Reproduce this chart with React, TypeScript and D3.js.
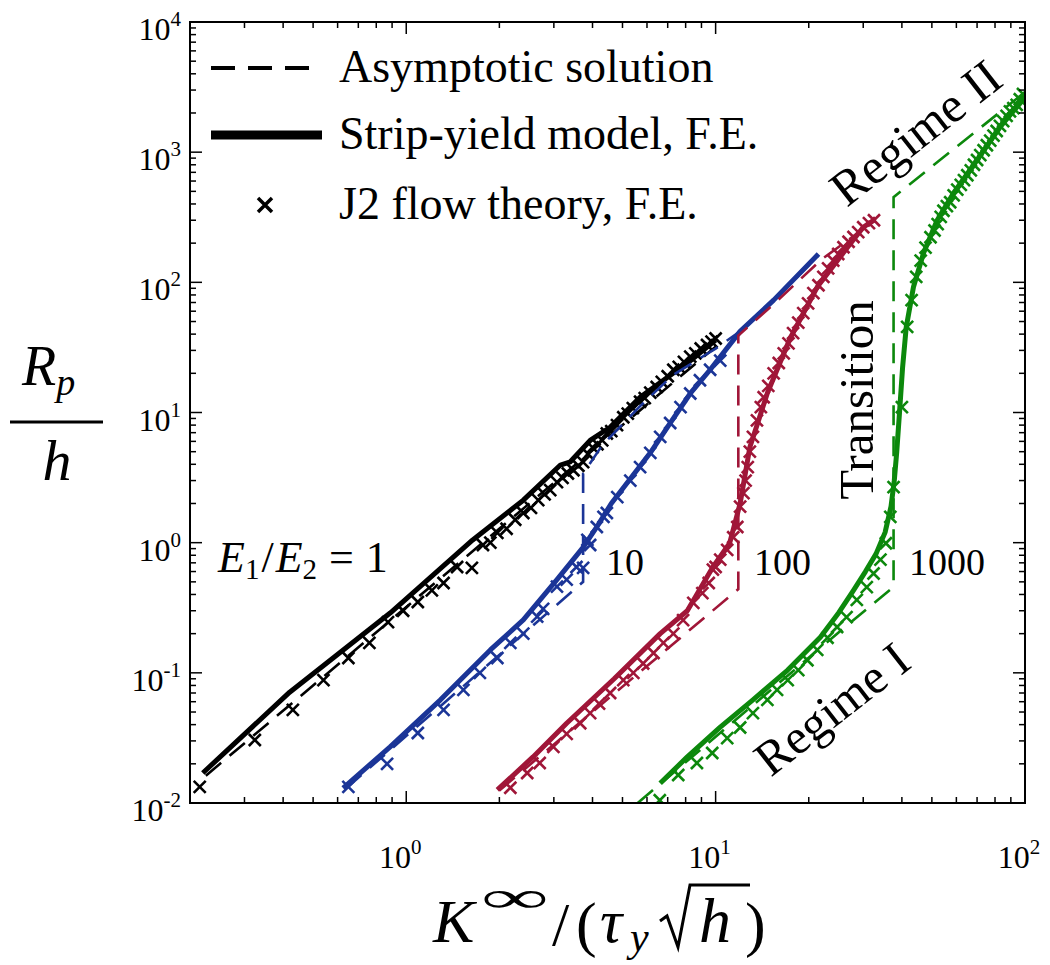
import React, { useEffect, useRef } from 'react';
import * as d3 from 'd3';

// E1/E2 = 1
const blackSolid = [[0.22, 0.017], [0.42, 0.071], [0.887, 0.288], [1.64, 1.05], [2.39, 2.12], [3.15, 3.95], [3.39, 4.18], [3.93, 6.1], [4.56, 7.7], [5.7, 13.1], [8.28, 25], [10, 36]];
const blackDashed = [[0.225, 0.0162], [10, 32]];
const blackMarks = [[0.215, 0.0133], [0.324, 0.0305], [0.43, 0.052], [0.54, 0.088], [0.65, 0.13], [0.76, 0.17], [0.873, 0.245], [0.977, 0.3], [1.09, 0.35], [1.21, 0.43], [1.32, 0.49], [1.46, 0.65], [1.63, 0.64], [1.77, 0.96], [1.87, 1.0], [1.97, 1.19], [2.11, 1.28], [2.25, 1.5], [2.39, 1.69], [2.53, 1.85], [2.67, 2.12], [2.8, 2.35], [2.92, 2.53], [3.07, 2.92], [3.2, 3.15], [3.33, 3.4], [3.47, 3.6], [3.6, 3.9], [3.73, 4.16], [3.87, 4.8], [4.0, 5.4], [4.15, 5.7], [4.3, 6.1], [4.45, 6.9], [4.6, 7.2], [4.8, 8.0], [5.03, 9.2], [5.2, 9.8], [5.4, 10.8], [5.7, 12.1], [5.9, 12.9], [6.15, 14.2], [6.45, 15.7], [6.7, 17.2], [7.0, 19.0], [7.3, 21.3], [7.6, 22.4], [7.9, 24.5], [8.28, 26.9], [8.6, 28.5], [8.95, 31], [9.38, 33], [9.7, 35], [10.0, 37]];

// E1/E2 = 10
const blueSolid = [[0.625, 0.013], [0.887, 0.027], [1.29, 0.062], [1.87, 0.15], [2.39, 0.255], [3.07, 0.52], [3.73, 0.92], [4.13, 1.32], [4.6, 2.0], [5.3, 3.1], [6.15, 4.9], [7.13, 8.3], [8.28, 14], [9.6, 21.3], [12, 42], [15.4, 73], [21.5, 165]];
const blueDashed = [[0.64, 0.013], [3.73, 0.5], [3.73, 3.4], [4.3, 5.6], [5.7, 11.2], [7.3, 19.5], [10, 31], [12, 42], [15.4, 73], [21.5, 160]];
const blueMarks = [[0.65, 0.0133], [0.867, 0.02], [1.09, 0.0345], [1.32, 0.052], [1.53, 0.074], [1.73, 0.1], [1.97, 0.13], [2.17, 0.17], [2.39, 0.2], [2.65, 0.27], [2.77, 0.31], [3.07, 0.46], [3.3, 0.52], [3.55, 0.65], [3.73, 0.64], [3.85, 1.05], [3.93, 0.96], [4.13, 1.32], [4.34, 1.58], [4.45, 1.69], [4.81, 2.24], [5.3, 3.0], [5.7, 3.8], [6.15, 4.9], [6.62, 6.5], [7.13, 8.3], [7.7, 11], [8.28, 14], [8.9, 17.7], [9.6, 21.3], [10.35, 25]];

// E1/E2 = 100
const redSolid = [[1.97, 0.0126], [2.57, 0.0226], [3.3, 0.041], [4.7, 0.09], [6.62, 0.2], [8.1, 0.3], [9.8, 0.65], [11.1, 0.99], [12.0, 2.0], [12.9, 5.4], [14.7, 14.1], [17.4, 37], [21.3, 92], [26.7, 186], [30, 265], [32.8, 305]];
const redDashed = [[2.0, 0.0125], [11.84, 0.44], [11.84, 39], [15.4, 68], [22, 150], [32.5, 295]];
const redMarks = [[2.17, 0.0131], [2.46, 0.017], [2.7, 0.0203], [2.99, 0.027], [3.3, 0.034], [3.65, 0.041], [3.93, 0.049], [4.2, 0.058], [4.56, 0.07], [5.03, 0.088], [5.42, 0.1], [5.83, 0.118], [6.3, 0.142], [6.78, 0.17], [7.3, 0.2], [7.85, 0.254], [8.47, 0.345], [9.06, 0.41], [9.5, 0.49], [9.8, 0.62], [10, 0.65], [10.35, 0.74], [10.9, 0.88], [11.4, 1.1], [11.75, 1.32], [12.0, 1.89], [12.3, 2.4], [12.5, 3.0], [12.7, 3.8], [12.9, 5.0], [13.2, 6.5], [13.6, 8.7], [14.0, 11], [14.3, 13.1], [14.8, 16], [15.4, 20], [16.0, 24], [16.6, 28.5], [17.2, 34], [17.8, 40.7], [18.5, 49], [19.2, 58], [19.9, 69], [20.7, 82.6], [21.5, 95], [22.3, 110], [23.1, 128], [24, 147], [24.9, 165], [25.9, 186], [26.9, 205], [27.9, 223], [28.9, 243], [30, 265], [31.3, 285], [32.5, 300]];

// E1/E2 = 1000
const greenSolid = [[6.62, 0.0142], [8.1, 0.0226], [10.35, 0.0383], [13.2, 0.062], [17.1, 0.105], [21.8, 0.188], [25, 0.29], [27.9, 0.43], [30.5, 0.6], [33, 0.82], [35.3, 1.2], [36.9, 1.9], [37.8, 3.0], [38.5, 5.0], [39.3, 10], [40.2, 22], [41.3, 45], [43.6, 92], [47, 168], [52, 300], [58.7, 484], [70, 870], [83, 1555], [100, 2640]];
const greenDashed = [[5.6, 0.01], [24.7, 0.2], [36.7, 0.435], [37.6, 0.48], [37.6, 451], [99, 2840]];
const greenMarks = [[6.6, 0.0105], [7.57, 0.0164], [8.7, 0.0203], [9.75, 0.0242], [10.9, 0.0315], [12, 0.038], [13.2, 0.049], [14.7, 0.062], [15.8, 0.074], [17.1, 0.088], [18.5, 0.105], [19.8, 0.125], [21.3, 0.15], [23, 0.186], [24.7, 0.225], [26.5, 0.268], [28.6, 0.363], [30.8, 0.455], [32.4, 0.58], [34.1, 0.74], [35.5, 0.99], [36.7, 1.58], [37.6, 2.67], [40, 11], [41.6, 45.5], [43, 73], [44.5, 110], [46, 147], [47.7, 185], [49.5, 222], [51, 250], [52.2, 280], [53.4, 318], [54.5, 355], [55.9, 385], [57.3, 412], [58.8, 465], [60.4, 515], [62, 560], [63.5, 610], [65.1, 665], [66.8, 725], [68.4, 800], [70, 870], [71.7, 950], [73.5, 1035], [75.3, 1130], [77.2, 1225], [79.1, 1340], [81, 1455], [83, 1590], [85, 1730], [87.2, 1900], [89.4, 2060], [91.7, 2180], [94, 2310], [96.2, 2550], [98.5, 2800]];

const groups = [
  { color: '#000000', solid: blackSolid, dashed: blackDashed, marks: blackMarks },
  { color: '#1b3597', solid: blueSolid, dashed: blueDashed, marks: blueMarks },
  { color: '#a01638', solid: redSolid, dashed: redDashed, marks: redMarks },
  { color: '#0c880c', solid: greenSolid, dashed: greenDashed, marks: greenMarks },
];

const xMajor = [1, 10, 100];
const xMajorExp = ['0', '1', '2'];
const yMajor = [0.01, 0.1, 1, 10, 100, 1000, 10000];
const yMajorExp = ['-2', '-1', '0', '1', '2', '3', '4'];
const legendLabels = ['Asymptotic solution', 'Strip-yield model, F.E.', 'J2 flow theory, F.E.'];

const FONT = 'Liberation Serif, DejaVu Serif, serif';

const App = () => {
  const ref = useRef(null);

  useEffect(() => {
    const svg = d3.select(ref.current);
    svg.selectAll('*').remove();

    const left = 190, right = 1025, top = 22, bottom = 803;
    const x = d3.scaleLog().domain([0.2, 100]).range([left, right]);
    const y = d3.scaleLog().domain([0.01, 10000]).range([bottom, top]);

    svg.append('defs').append('clipPath').attr('id', 'plotclip')
      .append('rect').attr('x', left).attr('y', top)
      .attr('width', right - left).attr('height', bottom - top);

    const line = d3.line().x(d => x(d[0])).y(d => y(d[1]));
    const plot = svg.append('g').attr('clip-path', 'url(#plotclip)');

    groups.forEach(g => {
      plot.append('path').datum(g.dashed)
        .attr('fill', 'none').attr('stroke', g.color)
        .attr('stroke-width', 2.6).attr('stroke-dasharray', '20,11')
        .attr('d', line);
      plot.append('path').datum(g.solid)
        .attr('fill', 'none').attr('stroke', g.color)
        .attr('stroke-width', 5).attr('stroke-linejoin', 'round')
        .attr('d', line);
      const s = 6;
      plot.append('g').selectAll('path').data(g.marks).enter().append('path')
        .attr('d', d => {
          const cx = x(d[0]), cy = y(d[1]);
          return `M${cx - s},${cy - s}L${cx + s},${cy + s}M${cx - s},${cy + s}L${cx + s},${cy - s}`;
        })
        .attr('stroke', g.color).attr('stroke-width', 2.6).attr('fill', 'none');
    });

    // ticks (inward, all four sides)
    const ax = svg.append('g').attr('stroke', '#000').attr('stroke-width', 1.5);
    const xMinor = [];
    [0.1, 1, 10].forEach(b => d3.range(2, 10).forEach(k => { const v = b * k; if (v > 0.2 && v < 100) xMinor.push(v); }));
    const yMinor = [];
    [0.01, 0.1, 1, 10, 100, 1000].forEach(b => d3.range(2, 10).forEach(k => yMinor.push(b * k)));

    xMajor.concat(xMinor).forEach(v => {
      const len = xMajor.includes(v) ? 12 : 6;
      ax.append('line').attr('x1', x(v)).attr('x2', x(v)).attr('y1', bottom).attr('y2', bottom - len);
      ax.append('line').attr('x1', x(v)).attr('x2', x(v)).attr('y1', top).attr('y2', top + len);
    });
    yMajor.concat(yMinor).forEach(v => {
      const len = yMajor.includes(v) ? 12 : 6;
      ax.append('line').attr('y1', y(v)).attr('y2', y(v)).attr('x1', left).attr('x2', left + len);
      ax.append('line').attr('y1', y(v)).attr('y2', y(v)).attr('x1', right).attr('x2', right - len);
    });
    svg.append('rect').attr('x', left).attr('y', top)
      .attr('width', right - left).attr('height', bottom - top)
      .attr('fill', 'none').attr('stroke', '#000').attr('stroke-width', 2);

    // tick labels
    xMajor.forEach((v, i) => {
      const t = svg.append('text').attr('x', x(v) - 6).attr('y', 868)
        .attr('text-anchor', 'middle').style('font-family', FONT).attr('font-size', 32);
      t.append('tspan').text('10');
      t.append('tspan').attr('font-size', 21).attr('dy', -14).text(xMajorExp[i]);
    });
    yMajor.forEach((v, i) => {
      const t = svg.append('text').attr('x', 181).attr('y', y(v) + 18)
        .attr('text-anchor', 'end').style('font-family', FONT).attr('font-size', 32);
      t.append('tspan').text('10');
      t.append('tspan').attr('font-size', 21).attr('dy', -14).text(yMajorExp[i]);
    });

    // legend
    const lg = svg.append('g');
    lg.append('line').attr('x1', 211).attr('x2', 322).attr('y1', 68).attr('y2', 68)
      .attr('stroke', '#000').attr('stroke-width', 4).attr('stroke-dasharray', '24,13');
    lg.append('line').attr('x1', 211).attr('x2', 322).attr('y1', 135).attr('y2', 135)
      .attr('stroke', '#000').attr('stroke-width', 9);
    lg.append('path').attr('d', 'M258,198L272,212M258,212L272,198')
      .attr('stroke', '#000').attr('stroke-width', 3.5);
    legendLabels.forEach((txt, i) => {
      lg.append('text').attr('x', 339).attr('y', [82, 149, 219][i])
        .style('font-family', FONT).attr('font-size', 46).text(txt);
    });

    // annotations
    const ann = svg.append('g').style('font-family', FONT).attr('fill', '#000');
    const e = ann.append('text').attr('x', 218).attr('y', 572).attr('font-size', 44);
    e.append('tspan').attr('font-style', 'italic').text('E');
    e.append('tspan').attr('font-size', 29).attr('dy', 7).text('1');
    e.append('tspan').attr('dy', -7).attr('dx', 2).text('/');
    e.append('tspan').attr('font-style', 'italic').attr('dx', 2).text('E');
    e.append('tspan').attr('font-size', 29).attr('dy', 7).text('2');
    e.append('tspan').attr('dy', -7).attr('dx', 12).text('=');
    e.append('tspan').attr('dx', 12).text('1');

    ann.append('text').attr('x', 606).attr('y', 575).attr('font-size', 38).text('10');
    ann.append('text').attr('x', 754).attr('y', 575).attr('font-size', 38).text('100');
    ann.append('text').attr('x', 909).attr('y', 575).attr('font-size', 38).text('1000');

    ann.append('text').attr('transform', 'translate(873,400) rotate(-90)')
      .attr('text-anchor', 'middle').attr('font-size', 49).text('Transition');
    ann.append('text').attr('transform', 'translate(842,722) rotate(-38)')
      .attr('text-anchor', 'middle').attr('font-size', 49).text('Regime I');
    ann.append('text').attr('transform', 'translate(926,146) rotate(-38)')
      .attr('text-anchor', 'middle').attr('font-size', 50).text('Regime II');

    // y axis label R_p / h
    const yl = svg.append('g').style('font-family', FONT);
    const rp = yl.append('text').attr('x', 22).attr('y', 385).attr('font-size', 56).attr('font-style', 'italic');
    rp.append('tspan').text('R');
    rp.append('tspan').attr('font-size', 38).attr('dy', 10).text('p');
    yl.append('line').attr('x1', 10).attr('x2', 103).attr('y1', 422).attr('y2', 422)
      .attr('stroke', '#000').attr('stroke-width', 3);
    yl.append('text').attr('x', 57).attr('y', 480).attr('text-anchor', 'middle')
      .attr('font-size', 58).attr('font-style', 'italic').text('h');

    // x axis label K^inf/(tau_y sqrt h)
    const xl = svg.append('g').style('font-family', FONT).attr('font-size', 62);
    xl.append('text').attr('x', 433).attr('y', 942).attr('font-style', 'italic').text('K');
    xl.append('text').attr('x', 481).attr('y', 912).attr('font-size', 44)
      .attr('textLength', 68).attr('lengthAdjust', 'spacingAndGlyphs').text('∞');
    xl.append('text').attr('x', 552).attr('y', 945).text('/');
    xl.append('text').attr('x', 576).attr('y', 945).text('(');
    xl.append('text').attr('x', 600).attr('y', 942).attr('font-style', 'italic').text('τ');
    xl.append('text').attr('x', 630).attr('y', 951).attr('font-size', 42).attr('font-style', 'italic').text('y');
    xl.append('path').attr('d', 'M660,921L667,916L678,947L690,885L750,885')
      .attr('fill', 'none').attr('stroke', '#000').attr('stroke-width', 3);
    xl.append('text').attr('x', 699).attr('y', 942).attr('font-size', 64).attr('font-style', 'italic').text('h');
    xl.append('text').attr('x', 745).attr('y', 945).text(')');
  }, []);

  return (
    <svg ref={ref} width={1050} height={965}
      style={{ position: 'absolute', left: 0, top: 0, background: '#fff' }} />
  );
};

export default App;
